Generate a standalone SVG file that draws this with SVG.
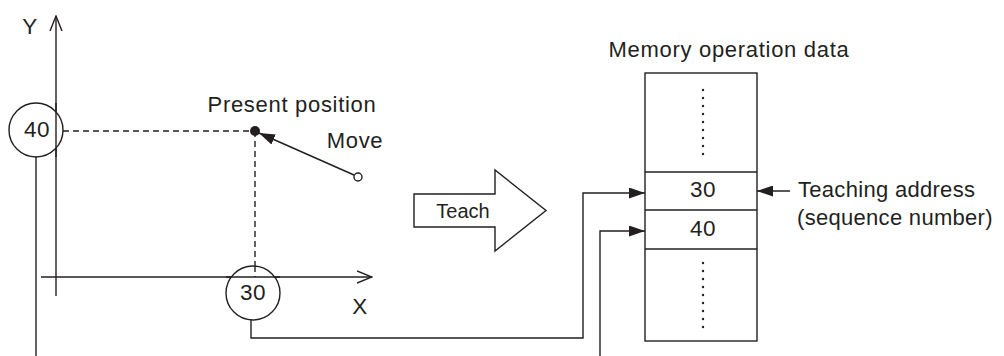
<svg xmlns="http://www.w3.org/2000/svg" width="1004" height="356" viewBox="0 0 1004 356">
<style>
text{font-family:"Liberation Sans",Arial,sans-serif;font-size:22px;fill:#231f20;letter-spacing:0.7px}
.num{font-size:22.5px;letter-spacing:0.5px}
.tl{font-size:22px;letter-spacing:0.3px}
.ln{fill:none;stroke:#231f20;stroke-width:1.4}
.dash{fill:none;stroke:#231f20;stroke-width:1.4;stroke-dasharray:6,4}
.c{fill:#fff;stroke:#231f20;stroke-width:1.4}
.dot{fill:#231f20}
</style>
<defs>
<marker id="ah" viewBox="0 0 16 11" refX="16" refY="5.5" markerWidth="16" markerHeight="11" markerUnits="userSpaceOnUse" orient="auto">
<path d="M0,0 L16,5.5 L0,11 Z" fill="#231f20"/>
</marker>
<marker id="open" viewBox="0 0 16 14" refX="15" refY="7" markerWidth="16" markerHeight="14" markerUnits="userSpaceOnUse" orient="auto">
<path d="M0,1 L15,7 L0,13" fill="none" stroke="#231f20" stroke-width="1.4"/>
</marker>
</defs>
<g id="axes">
<line class="ln" x1="56" y1="296" x2="56" y2="16" marker-end="url(#open)"/>
<line class="ln" x1="41" y1="277" x2="372" y2="277" marker-end="url(#open)"/>
<text x="30" y="34" text-anchor="middle" class="num">Y</text>
<text x="360" y="314" text-anchor="middle" class="num">X</text>
</g>
<g id="guides">
<line class="dash" x1="63" y1="131" x2="255" y2="131"/>
<line class="dash" x1="255" y1="131" x2="255" y2="266"/>
</g>
<g id="connectors">
<line class="ln" x1="36" y1="157" x2="36" y2="356"/>
<polyline class="ln" points="251,320 251,338 583,338 583,193 645,193" marker-end="url(#ah)"/>
<polyline class="ln" points="600,356 600,231 645,231" marker-end="url(#ah)"/>
<line class="ln" x1="354" y1="175" x2="259" y2="133" marker-end="url(#ah)"/>
<line class="ln" x1="790" y1="191" x2="757" y2="191" marker-end="url(#ah)"/>
</g>
<g id="y40">
<circle class="c" cx="36" cy="130" r="27"/>
<line class="ln" x1="56" y1="103" x2="56" y2="157"/>
<text x="37" y="137" text-anchor="middle" class="num">40</text>
</g>
<g id="x30">
<circle class="c" cx="253" cy="293" r="27"/>
<line class="dash" x1="255" y1="266" x2="255" y2="277"/>
<line class="ln" x1="226" y1="277" x2="280" y2="277"/>
<text x="253" y="300" text-anchor="middle" class="num">30</text>
</g>
<g id="present">
<circle class="dot" cx="255" cy="131" r="5"/>
<text x="292" y="112" text-anchor="middle">Present position</text>
</g>
<g id="move">
<circle class="c" cx="358" cy="177" r="4"/>
<text x="355" y="148" text-anchor="middle">Move</text>
</g>
<g id="teach">
<path class="c" d="M414,194 L495,194 L495,170 L546,210.5 L495,251 L495,227 L414,227 Z"/>
<text x="463" y="218" text-anchor="middle" style="font-size:20px;letter-spacing:0">Teach</text>
</g>
<g id="memory">
<text x="729" y="57" text-anchor="middle">Memory operation data</text>
<rect class="ln" x="645" y="73" width="112" height="268"/>
<line class="ln" x1="645" y1="172" x2="757" y2="172"/>
<line class="ln" x1="645" y1="210" x2="757" y2="210"/>
<line class="ln" x1="645" y1="249" x2="757" y2="249"/>
<g class="dot">
<circle cx="703" cy="90" r="1.2"/><circle cx="703" cy="98" r="1.2"/><circle cx="703" cy="106" r="1.2"/><circle cx="703" cy="114" r="1.2"/><circle cx="703" cy="122" r="1.2"/><circle cx="703" cy="130" r="1.2"/><circle cx="703" cy="138" r="1.2"/><circle cx="703" cy="146" r="1.2"/><circle cx="703" cy="154" r="1.2"/>
<circle cx="703" cy="263" r="1.2"/><circle cx="703" cy="271" r="1.2"/><circle cx="703" cy="279" r="1.2"/><circle cx="703" cy="287" r="1.2"/><circle cx="703" cy="295" r="1.2"/><circle cx="703" cy="303" r="1.2"/><circle cx="703" cy="311" r="1.2"/><circle cx="703" cy="319" r="1.2"/><circle cx="703" cy="327" r="1.2"/>
</g>
<text x="703" y="197" text-anchor="middle" class="num">30</text>
<text x="703" y="236" text-anchor="middle" class="num">40</text>
</g>
<g id="teaching-address">
<text x="798" y="197" class="tl">Teaching address</text>
<text x="797" y="225" class="tl">(sequence number)</text>
</g>
</svg>
